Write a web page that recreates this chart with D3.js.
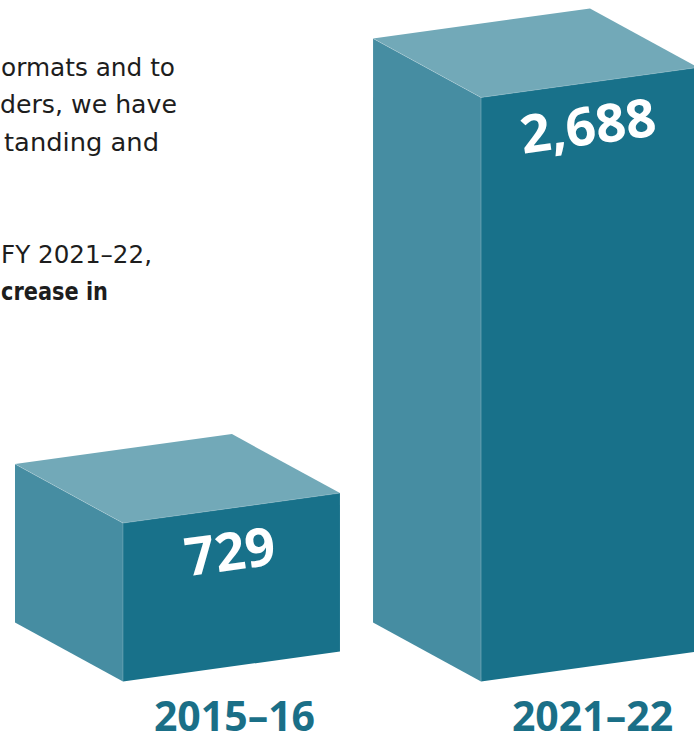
<!DOCTYPE html>
<html>
<head>
<meta charset="utf-8">
<script src="https://cdn.jsdelivr.net/npm/d3@7"></script>
<style>
  html, body { margin: 0; padding: 0; background: #fff; overflow: hidden; }
  svg { display: block; }
</style>
</head>
<body>
<div id="chart"></div>
<script>
const categories = ["2015–16", "2021–22"];
const values = [729, 2688];

// visible tail of the paragraph the chart sits beside
const introText = ["ormats and to", "ders, we have", "tanding and", "FY 2021–22,", "crease in"];
const introLine = [0, 1, 2, 5, 6];
const introBold = [false, false, false, false, true];

const width = 694, height = 742;
const baseY = 681.5;
const slope = -30 / 217;      // front face tilt
const depth = [-108, -59];    // offset of back edges

const colors = { front: "#18718a", side: "#468da2", top: "#72a9b8", label: "#1a6f87" };

const svg = d3.select("#chart").append("svg")
  .attr("width", width)
  .attr("height", height);

const x = d3.scaleBand()
  .domain(categories)
  .range([123, 698])
  .paddingInner(0.394)
  .paddingOuter(0);

const h = d3.scaleLinear()
  .domain([0, 2688])
  .range([0, 584]);

const bw = x.bandwidth();

// paragraph text
const introStart = [1, 0, 4, 1, 1];
const introLen = [174, 177, 155, 151, 107];
svg.append("g")
  .selectAll("text")
  .data(introText)
  .join("text")
  .attr("x", (d, i) => introStart[i])
  .attr("y", (d, i) => 76 + introLine[i] * 37.4)
  .attr("font-family", "'DejaVu Sans', sans-serif")
  .attr("font-size", 24.5)
  .attr("font-weight", (d, i) => introBold[i] ? 700 : 400)
  .attr("textLength", (d, i) => introLen[i])
  .attr("lengthAdjust", "spacingAndGlyphs")
  .attr("fill", "#1d1d1d")
  .text(d => d);

const boxes = svg.append("g")
  .selectAll("g")
  .data(categories.map((c, i) => ({ cat: c, value: values[i] })))
  .join("g");

function corners(d) {
  const x0 = x(d.cat), x1 = x0 + bw;
  const hh = h(d.value);
  const b0 = baseY, b1 = baseY + slope * bw;
  const t0 = b0 - hh, t1 = b1 - hh;
  return { x0, x1, b0, b1, t0, t1 };
}

// left side face
boxes.append("path")
  .attr("fill", colors.side)
  .attr("d", d => {
    const c = corners(d);
    return `M${c.x0},${c.t0}L${c.x0 + depth[0]},${c.t0 + depth[1]}L${c.x0 + depth[0]},${c.b0 + depth[1]}L${c.x0},${c.b0}Z`;
  });

// top face
boxes.append("path")
  .attr("fill", colors.top)
  .attr("d", d => {
    const c = corners(d);
    return `M${c.x0},${c.t0}L${c.x0 + depth[0]},${c.t0 + depth[1]}L${c.x1 + depth[0]},${c.t1 + depth[1]}L${c.x1},${c.t1}Z`;
  });

// front face
boxes.append("path")
  .attr("fill", colors.front)
  .attr("d", d => {
    const c = corners(d);
    return `M${c.x0},${c.t0}L${c.x1},${c.t1}L${c.x1},${c.b1}L${c.x0},${c.b0}Z`;
  });

// thin light seams between faces
boxes.append("path")
  .attr("fill", "none")
  .attr("stroke", "#ffffff")
  .attr("stroke-opacity", 0.35)
  .attr("stroke-width", 0.6)
  .attr("d", d => {
    const c = corners(d);
    return `M${c.x0 + depth[0]},${c.t0 + depth[1]}L${c.x0},${c.t0}L${c.x1},${c.t1}M${c.x0},${c.t0}L${c.x0},${c.b0}`;
  });

// value labels, tilted with the front face
const angle = Math.atan(slope) * 180 / Math.PI;
boxes.append("text")
  .attr("transform", d => {
    const c = corners(d);
    const cx = (c.x0 + c.x1) / 2 + 1;
    const cy = (c.t0 + c.t1) / 2 + 62;
    return `translate(${cx},${cy}) rotate(${angle})`;
  })
  .attr("text-anchor", "middle")
  .attr("font-family", "'Open Sans', sans-serif")
  .attr("font-size", 53)
  .attr("font-weight", 700)
  .attr("fill", "#ffffff")
  .text(d => d3.format(",")(d.value));

// category labels
svg.append("g")
  .selectAll("text")
  .data(categories)
  .join("text")
  .attr("x", d => x(d) + bw / 2 + 3)
  .attr("y", 731)
  .attr("text-anchor", "middle")
  .attr("font-family", "'Open Sans', sans-serif")
  .attr("font-size", 41)
  .attr("font-weight", 700)
  .attr("fill", colors.label)
  .text(d => d);
</script>
</body>
</html>
